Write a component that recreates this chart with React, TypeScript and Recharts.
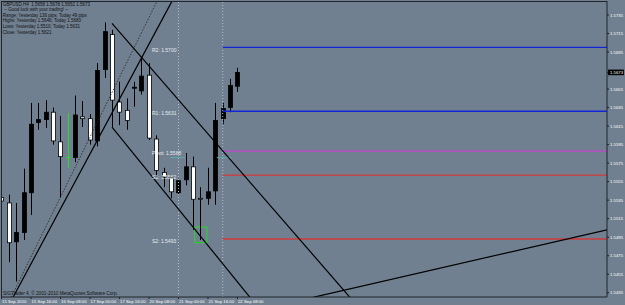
import React from 'react';
import {
  ComposedChart,
  Bar,
  Scatter,
  XAxis,
  YAxis,
  ReferenceLine,
  ReferenceArea,
} from 'recharts';

// GBPUSD H4, 15 Sep 2010 00:00 .. 22 Sep 2010 08:00
const opens = [
  1.5538, 1.5532, 1.549, 1.55, 1.5543, 1.5619, 1.5622, 1.563, 1.5598, 1.5582, 1.5581,
  1.5625, 1.5623, 1.5599, 1.5676, 1.5714, 1.5641, 1.5632, 1.5656, 1.5653, 1.567, 1.5601,
  1.5565, 1.5559, 1.5543, 1.5557, 1.5571, 1.5537, 1.5537, 1.5545, 1.5623, 1.5635, 1.5658,
];
const highs = [
  1.5555, 1.5541, 1.5532, 1.5569, 1.564, 1.564, 1.5643, 1.5635, 1.5626, 1.5629, 1.5648,
  1.5642, 1.5628, 1.5683, 1.5727, 1.5719, 1.5663, 1.5645, 1.5663, 1.5689, 1.5683, 1.5605,
  1.557, 1.556, 1.5558, 1.5586, 1.5582, 1.5549, 1.557, 1.564, 1.564, 1.5666, 1.5678,
];
const lows = [
  1.5524, 1.5468, 1.5447, 1.5492, 1.5519, 1.5611, 1.5613, 1.5595, 1.5538, 1.557, 1.5576,
  1.5614, 1.5595, 1.5593, 1.5667, 1.5614, 1.5616, 1.5611, 1.5636, 1.5649, 1.56, 1.556,
  1.5549, 1.5537, 1.5541, 1.5551, 1.5503, 1.5492, 1.553, 1.553, 1.5617, 1.563, 1.5652,
];
const closes = [
  1.5534, 1.5489, 1.55, 1.5543, 1.5617, 1.5622, 1.563, 1.5599, 1.5582, 1.5582, 1.5627,
  1.5623, 1.56, 1.5675, 1.5717, 1.5643, 1.563, 1.5621, 1.5657, 1.5669, 1.5602, 1.5567,
  1.556, 1.5544, 1.5556, 1.5571, 1.5536, 1.5536, 1.5544, 1.5621, 1.5634, 1.5659, 1.5673,
];

const timeIdx = [0, 4, 8, 12, 16, 20, 24, 28, 32];
const timeLabels = [
  '15 Sep 2010', '15 Sep 16:00', '16 Sep 08:00', '17 Sep 00:00', '17 Sep 16:00',
  '20 Sep 08:00', '21 Sep 00:00', '21 Sep 16:00', '22 Sep 08:00',
];
const daySeparators = [24, 30];

const priceTicks = [
  1.5735, 1.5715, 1.5695, 1.5673, 1.5655, 1.5635, 1.5615, 1.5595, 1.5575, 1.5555,
  1.5535, 1.5515, 1.5495, 1.5475, 1.5455, 1.5435,
];

const levelNames = ['R2', 'R1', 'Pivot', 'S1', 'S2'];
const levelValues = [1.57, 1.5631, 1.5588, 1.5562, 1.5493];
const levelColors = ['#1424d8', '#1424d8', '#c444cc', '#d23a3a', '#d23a3a'];
const levelStart = 30;
const labelAt = 20;

const prevPivot = 1.5581;
const prevPivotSpans = [[22.9, 24.9], [29.2, 31.2]];

// drawn objects: [barIndex, price] pairs
const channelUpper = [[14.98, 1.5726], [47.27, 1.543]];
const channelLower = [[14.98, 1.5614], [33.7, 1.543]];
const riseSolid = [[1.55, 1.543], [23.12, 1.575]];
const riseDotted = [[1.28, 1.543], [21.09, 1.575]];
const lowerRight = [[42.25, 1.543], [82.14, 1.5503]];
const signalBox = [26.2, 27.85, 1.5489, 1.5506];

const headerLines = [
  'GBPUSD,H4  1.5658 1.5678 1.5652 1.5673',
  ' -- Good luck with your trading! --',
  'Range: Yesterday 136 pips; Today 49 pips',
  'Highs: Yesterday 1.5646; Today 1.5680',
  'Lows: Yesterday 1.5510; Today 1.5631',
  'Close: Yesterday 1.5621',
];

const bars = opens.map((o, i) => ({
  i,
  o,
  h: highs[i],
  l: lows[i],
  c: closes[i],
  range: [lows[i], highs[i]],
}));

const labelData = levelNames.map((n, k) => ({
  i: labelAt,
  p: levelValues[k],
  text: `${n}: ${levelValues[k].toFixed(4)}`,
}));

const FONT = '"Liberation Sans", Arial, sans-serif';
const BG = '#708090';

function Candle(props: any) {
  const { x, y, width, height, payload } = props;
  const { o, h, l, c } = payload;
  const span = h - l || 1e-9;
  const py = (p: number) => y + ((h - p) / span) * height;
  const cx = Math.round(x + width / 2) + 0.5;
  if (o === c) {
    return (
      <g>
        <line x1={cx} x2={cx} y1={y} y2={y + height} stroke="#22e022" strokeWidth={1} />
        <line
          x1={cx - 2.5}
          x2={cx + 2.5}
          y1={Math.round(py(o)) + 0.5}
          y2={Math.round(py(o)) + 0.5}
          stroke="#22e022"
          strokeWidth={1}
        />
      </g>
    );
  }
  const top = py(Math.max(o, c));
  const bot = py(Math.min(o, c));
  return (
    <g>
      <line x1={cx} x2={cx} y1={y} y2={y + height} stroke="#000" strokeWidth={1} />
      <rect
        x={cx - 2}
        y={top}
        width={4}
        height={Math.max(bot - top, 1)}
        fill={c > o ? '#000' : '#fff'}
        stroke="#000"
        strokeWidth={0.8}
      />
    </g>
  );
}

function PriceTick(props: any) {
  const { x, y, payload } = props;
  const cur = payload.value === closes[closes.length - 1];
  return (
    <g>
      {cur && <rect x={x - 2} y={y - 2.8} width={16} height={5.6} fill="#000" />}
      <text x={x} y={y} dy={1.6} fontSize={4.3} fill="#fff" fontFamily={FONT}>
        {payload.value.toFixed(4)}
      </text>
    </g>
  );
}

function TimeTick(props: any) {
  const { x, y, payload } = props;
  const k = timeIdx.indexOf(payload.value);
  return (
    <text x={x + 0.5} y={y} dy={3.3} fontSize={4.3} fill="#fff" fontFamily={FONT}>
      {timeLabels[k]}
    </text>
  );
}

const seg = (pts: number[][]) => pts.map(([x, y]) => ({ x, y }));

export default function App() {
  return (
    <div
      style={{
        position: 'fixed',
        left: 0,
        top: 0,
        width: 625,
        height: 305,
        background: BG,
        overflow: 'hidden',
      }}
    >
      <ComposedChart
        width={625}
        height={305}
        data={bars}
        margin={{ top: 1, right: 0, left: 1, bottom: 0 }}
      >
        <XAxis
          dataKey="i"
          type="number"
          domain={[-0.081, 82.14]}
          allowDataOverflow
          ticks={timeIdx}
          interval={0}
          tick={<TimeTick />}
          tickSize={2}
          tickMargin={1}
          height={8}
          axisLine={{ stroke: '#1e242a' }}
          tickLine={{ stroke: '#1e242a' }}
        />
        <YAxis
          orientation="right"
          type="number"
          domain={[1.54304, 1.57501]}
          allowDataOverflow
          ticks={priceTicks}
          interval={0}
          tick={<PriceTick />}
          tickSize={2}
          tickMargin={1}
          width={18}
          axisLine={{ stroke: '#1e242a' }}
          tickLine={{ stroke: '#1e242a' }}
        />
        {daySeparators.map((d) => (
          <ReferenceLine
            key={d}
            x={d}
            stroke="#b4bec8"
            strokeDasharray="1 2"
            ifOverflow="hidden"
          />
        ))}
        {levelValues.map((v, k) => (
          <ReferenceLine
            key={k}
            segment={[{ x: levelStart, y: v }, { x: 82.14, y: v }]}
            stroke={levelColors[k]}
            strokeWidth={1.4}
            ifOverflow="hidden"
          />
        ))}
        {prevPivotSpans.map(([a, b], k) => (
          <ReferenceLine
            key={'pp' + k}
            segment={[{ x: a, y: prevPivot }, { x: b, y: prevPivot }]}
            stroke="#5fa8a8"
            strokeWidth={1}
            ifOverflow="hidden"
          />
        ))}
        <Scatter
          data={labelData}
          dataKey="p"
          isAnimationActive={false}
          shape={(p: any) => (
            <text
              x={p.cx + 3}
              y={p.cy}
              dy={4.2}
              fontSize={5}
              fill="#e6eaee"
              fontFamily={FONT}
            >
              {p.payload.text}
            </text>
          )}
        />
        <Bar
          dataKey="range"
          barSize={5}
          isAnimationActive={false}
          shape={(p: any) => <Candle {...p} />}
        />
        <ReferenceLine segment={seg(channelUpper)} stroke="#000" strokeWidth={1.2} ifOverflow="hidden" />
        <ReferenceLine segment={seg(channelLower)} stroke="#000" strokeWidth={1.2} ifOverflow="hidden" />
        <ReferenceLine segment={seg(riseSolid)} stroke="#000" strokeWidth={1.2} ifOverflow="hidden" />
        <ReferenceLine
          segment={seg(riseDotted)}
          stroke="#222"
          strokeWidth={0.8}
          strokeDasharray="1.5 1.5"
          ifOverflow="hidden"
        />
        <ReferenceLine segment={seg(lowerRight)} stroke="#000" strokeWidth={1.2} ifOverflow="hidden" />
        <ReferenceArea
          x1={signalBox[0]}
          x2={signalBox[1]}
          y1={signalBox[2]}
          y2={signalBox[3]}
          fill="none"
          stroke="#22dd22"
          strokeWidth={1}
          ifOverflow="hidden"
        />
      </ComposedChart>
      <svg
        width={625}
        height={305}
        style={{ position: 'absolute', left: 0, top: 0, pointerEvents: 'none' }}
      >
        <line x1={1.5} x2={1.5} y1={1} y2={297} stroke="#1e242a" strokeWidth={1} />
        <line x1={1} x2={607} y1={1.5} y2={1.5} stroke="#1e242a" strokeWidth={1} />
        {headerLines.map((t, k) => (
          <text
            key={k}
            x={2.7}
            y={[4.4, 9.4, 15, 20.7, 26.2, 32][k] + 1.6}
            fontSize={4.5}
            fill="#111"
            fontFamily={FONT}
            style={{ whiteSpace: 'pre' }}
          >
            {t}
          </text>
        ))}
        <text x={3} y={294.8} fontSize={4.7} fill="#111" fontFamily={FONT}>
          SIGTrader 4, © 2001-2010 MetaQuotes Software Corp.
        </text>
      </svg>
    </div>
  );
}
